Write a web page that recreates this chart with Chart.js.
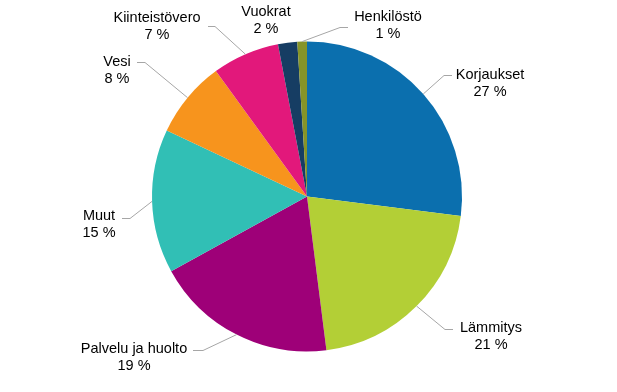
<!DOCTYPE html>
<html lang="fi">
<head>
    <meta charset="UTF-8">
    <title>Kustannusten jakauma</title>
    <style>
        body {
            margin: 0;
            padding: 0;
            background-color: #ffffff;
        }
        canvas {
            display: block;
        }
    </style>
</head>
<body>
    <canvas id="pieChart" width="617" height="392"></canvas>

    <script src="https://cdn.jsdelivr.net/npm/chart.js"></script>
    <script>
        const categories = ['Korjaukset', 'Lämmitys', 'Palvelu ja huolto', 'Muut', 'Vesi', 'Kiinteistövero', 'Vuokrat', 'Henkilöstö'];
        const shares = [27, 21, 19, 15, 8, 7, 2, 1];
        const sliceColors = ['#0b6fae', '#b3cf36', '#9e0078', '#31bfb5', '#f7941d', '#e2187b', '#163d63', '#869428'];

        // label placement: text centre (x, y of first line) and leader elbow (null = no leader)
        const labelSpots = [
            { x: 490, y: 75, ex: 444, ey: 75, hx: 452 },
            { x: 491, y: 328, ex: 445, ey: 329, hx: 453 },
            { x: 134, y: 349, ex: 203, ey: 350, hx: 193 },
            { x: 99, y: 216, ex: 130, ey: 218, hx: 122 },
            { x: 117, y: 62, ex: 145, ey: 62, hx: 137 },
            { x: 157, y: 18, ex: 215, ey: 26, hx: 208 },
            { x: 266, y: 12, ex: null },
            { x: 388, y: 17, ex: 340, ey: 27, hx: 348 }
        ];

        const outsideLabels = {
            id: 'outsideLabels',
            afterDatasetsDraw(chart) {
                const ctx = chart.ctx;
                const arcs = chart.getDatasetMeta(0).data;
                ctx.save();
                arcs.forEach((arc, i) => {
                    const spot = labelSpots[i];
                    if (spot.ex !== null) {
                        const mid = (arc.startAngle + arc.endAngle) / 2;
                        const sx = arc.x + Math.cos(mid) * arc.outerRadius;
                        const sy = arc.y + Math.sin(mid) * arc.outerRadius;
                        ctx.strokeStyle = '#a6a6a6';
                        ctx.lineWidth = 1;
                        ctx.beginPath();
                        ctx.moveTo(sx, sy);
                        ctx.lineTo(spot.ex, spot.ey + 0.5);
                        ctx.lineTo(spot.hx, spot.ey + 0.5);
                        ctx.stroke();
                    }
                    ctx.fillStyle = '#000000';
                    ctx.font = '14.5px "Liberation Sans", Arial, sans-serif';
                    ctx.textAlign = 'center';
                    ctx.textBaseline = 'middle';
                    ctx.fillText(categories[i], spot.x, spot.y);
                    ctx.fillText(shares[i] + ' %', spot.x, spot.y + 17);
                });
                ctx.restore();
            }
        };

        new Chart(document.getElementById('pieChart'), {
            type: 'pie',
            data: {
                labels: categories,
                datasets: [{
                    data: shares,
                    backgroundColor: sliceColors,
                    borderWidth: 0
                }]
            },
            options: {
                responsive: false,
                animation: false,
                layout: {
                    padding: { left: 152, right: 155, top: 41, bottom: 40 }
                },
                plugins: {
                    legend: { display: false },
                    tooltip: { enabled: false }
                }
            },
            plugins: [outsideLabels]
        });
    </script>
</body>
</html>
